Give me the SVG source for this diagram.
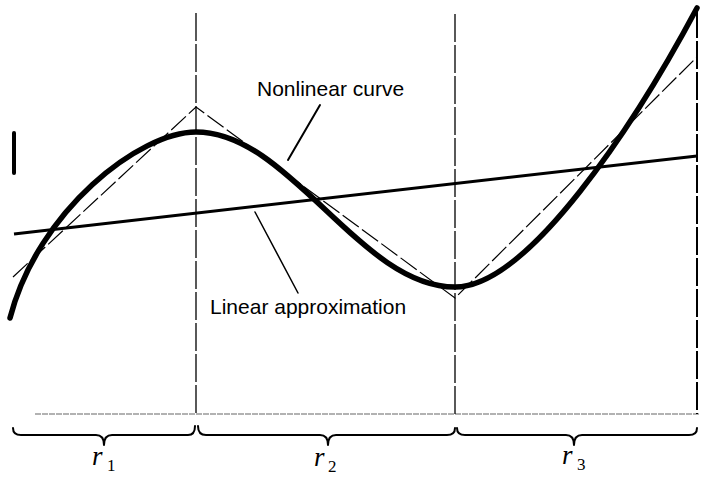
<svg xmlns="http://www.w3.org/2000/svg" width="710" height="478" viewBox="0 0 710 478">
<style>
.lbl{font-family:"Liberation Sans",Arial,sans-serif;font-size:21px;fill:#000}
.r{font-family:"Liberation Serif","Times New Roman",serif;font-style:italic;font-size:27px;fill:#000}
.sub{font-family:"Liberation Serif","Times New Roman",serif;font-size:17px;fill:#000}
.vdash{stroke:#000;stroke-width:1.3;fill:none;stroke-dasharray:28 3}
.brace{stroke:#000;stroke-width:2;fill:none;stroke-linecap:round;stroke-linejoin:round}
.lead{stroke:#000;fill:none;stroke-linecap:round}
</style>
<rect width="710" height="478" fill="#fff"/>
<g id="axes">
<line x1="35" y1="414" x2="700" y2="414" stroke="#999" stroke-width="1.5" stroke-dasharray="6 1"/>
<line class="vdash" x1="196" y1="13" x2="196" y2="414"/>
<line class="vdash" x1="455" y1="14" x2="455" y2="414"/>
<line class="vdash" x1="697" y1="10" x2="697" y2="414" style="stroke-width:2"/>
<line x1="14" y1="133" x2="14" y2="173" stroke="#000" stroke-width="4" stroke-linecap="round"/>
</g>
<g id="piecewise-approximation">
<polyline points="13,277 196,107 455,298 697,57" fill="none" stroke="#000" stroke-width="1.2" stroke-dasharray="20 4"/>
</g>
<g id="linear-approximation">
<line x1="14" y1="234" x2="697" y2="156" stroke="#000" stroke-width="3"/>
</g>
<g id="nonlinear-curve">
<path d="M10,318 C38,210 140,132 196,132 C290,132 360,287 455,287 C528,287 634,126 697,8" fill="none" stroke="#000" stroke-width="5.5" stroke-linecap="round"/>
</g>
<g id="connectors">
<line class="lead" x1="320" y1="105" x2="288" y2="160" stroke-width="2"/>
<line class="lead" x1="298" y1="293" x2="255" y2="212" stroke-width="1.5"/>
</g>
<g id="label-nonlinear">
<text class="lbl" x="257" y="96">Nonlinear curve</text>
</g>
<g id="label-linear">
<text class="lbl" x="210" y="314">Linear approximation</text>
</g>
<g id="range-r1">
<path class="brace" d="M13,428 Q13,435 21,435 L96,435 Q104,435 104,445 Q104,435 112,435 L188,435 Q195,435 195,426"/>
<text class="r" x="92" y="465">r</text><text class="sub" x="107" y="471">1</text>
</g>
<g id="range-r2">
<path class="brace" d="M198,426 Q198,435 206,435 L320,435 Q328,435 328,445 Q328,435 336,435 L447,435 Q455,435 455,428"/>
<text class="r" x="314" y="466">r</text><text class="sub" x="328" y="472">2</text>
</g>
<g id="range-r3">
<path class="brace" d="M457,428 Q457,435 465,435 L566,435 Q574,435 574,445 Q574,435 582,435 L689,435 Q697,435 697,428"/>
<text class="r" x="562" y="464">r</text><text class="sub" x="577" y="470">3</text>
</g>
</svg>
